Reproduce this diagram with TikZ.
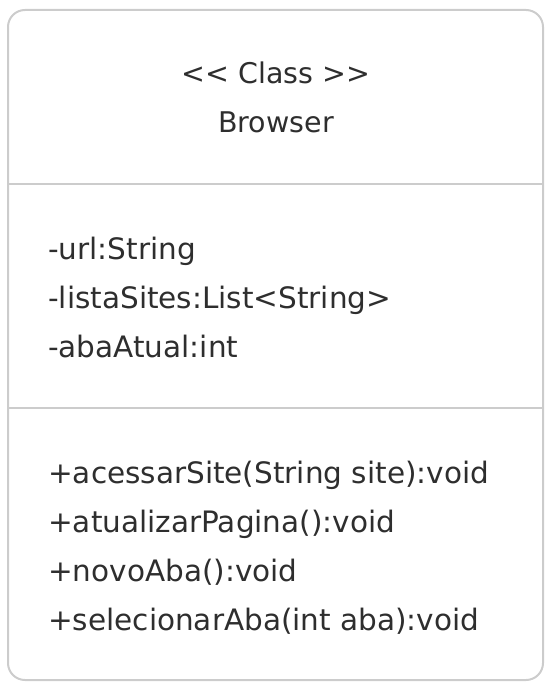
\documentclass[tikz,border=0pt]{standalone}
\usepackage{fontspec}
\setmainfont{DejaVu Sans}[Ligatures=NoCommon]
\definecolor{txt}{HTML}{2E2E2E}
\definecolor{bord}{HTML}{CCCCCC}
\begin{document}
\begin{tikzpicture}[x=1pt,y=-1pt,
  lbl/.style={anchor=base west,inner sep=0pt,text=txt,font=\fontsize{29.5}{32}\selectfont},
  hdr/.style={anchor=base,inner sep=0pt,text=txt,font=\fontsize{28.5}{32}\selectfont}]
\useasboundingbox (0,0) rectangle (549,692);
\draw[bord,line width=2pt,rounded corners=17pt] (8,10) rectangle (543,680);
\draw[bord,line width=2pt] (8,184) -- (543,184);
\draw[bord,line width=2pt] (8,408) -- (543,408);
\node[hdr] (st) at (276,84) {<{}< Class >{}>};
\node[hdr] (nm) at (276,133) {Browser};
\node[lbl] (a1) at (48,259) {-url:String};
\node[lbl] (a2) at (48,308) {-listaSites:List<String>};
\node[lbl] (a3) at (48,357) {-abaAtual:int};
\node[lbl] (m1) at (48,483) {+acessarSite(String site):void};
\node[lbl] (m2) at (48,532) {+atualizarPagina():void};
\node[lbl] (m3) at (48,581) {+novoAba():void};
\node[lbl] (m4) at (48,630) {+selecionarAba(int aba):void};
\end{tikzpicture}
\end{document}
